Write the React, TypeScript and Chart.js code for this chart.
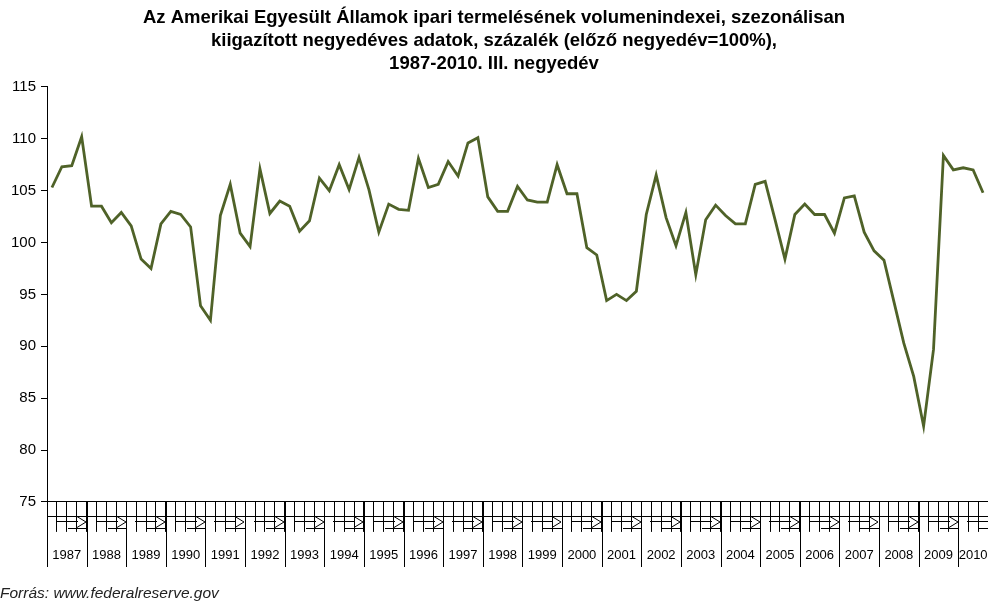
import React, { useEffect, useRef } from "react";
import { Chart, registerables } from "chart.js";

Chart.register(...registerables);

const titleLines = [
  "Az Amerikai Egyesült Államok ipari termelésének volumenindexei, szezonálisan",
  "kiigazított negyedéves adatok, százalék (előző negyedév=100%),",
  "1987-2010. III. negyedév",
];
const sourceNote = "Forrás: www.federalreserve.gov";

const years = [
  "1987", "1988", "1989", "1990", "1991", "1992", "1993", "1994",
  "1995", "1996", "1997", "1998", "1999", "2000", "2001", "2002",
  "2003", "2004", "2005", "2006", "2007", "2008", "2009", "2010",
];
const quarters = ["I.", "II.", "III.", "IV."];

const values = [
  105.3, 107.3, 107.4, 110.2,
  103.5, 103.5, 101.9, 102.9,
  101.6, 98.4, 97.5, 101.8,
  103.0, 102.7, 101.5, 93.9,
  92.5, 102.6, 105.6, 100.9,
  99.6, 107.1, 102.8, 104.0,
  103.5, 101.1, 102.1, 106.2,
  105.0, 107.5, 105.1, 108.2,
  105.1, 101.0, 103.7, 103.2,
  103.1, 108.1, 105.3, 105.6,
  107.8, 106.4, 109.6, 110.1,
  104.4, 103.0, 103.0, 105.4,
  104.1, 103.9, 103.9, 107.5,
  104.7, 104.7, 99.5, 98.8,
  94.4, 95.0, 94.4, 95.3,
  102.7, 106.5, 102.4, 99.7,
  102.9, 96.9, 102.2, 103.6,
  102.6, 101.8, 101.8, 105.6,
  105.9, 102.2, 98.4, 102.7,
  103.7, 102.7, 102.7, 100.9,
  104.3, 104.5, 101.0, 99.2,
  98.3, 94.3, 90.3, 87.1,
  82.3, 89.7, 108.4, 107.0,
  107.2, 107.0, 104.8,
];

const yMin = 75;
const yMax = 115;
const yStep = 5;

const FONT = "'Liberation Sans', Arial, sans-serif";

const axisDecor = {
  id: "axisDecor",
  afterDraw(chart: any) {
    const { ctx, chartArea } = chart;
    const s = chart.scales.x2;
    const y0 = Math.round(chart.scales.x.top);
    const n = values.length;
    ctx.save();
    ctx.strokeStyle = "#000";
    ctx.lineWidth = 1;
    const line = (x1: number, y1: number, x2: number, y2: number) => {
      ctx.beginPath();
      ctx.moveTo(x1, y1);
      ctx.lineTo(x2, y2);
      ctx.stroke();
    };
    // year separators
    const bounds = years.map((_, i) => i * 4 - 0.5).concat([n - 0.5]);
    bounds.forEach((b) => {
      const x = Math.round(s.getPixelForValue(b)) + 0.5;
      line(x, y0, x, y0 + 65);
    });
    // baseline of quarter glyph row
    line(chartArea.left, y0 + 14.5, chartArea.right, y0 + 14.5);
    // glyph marks per year
    ctx.beginPath();
    ctx.rect(chartArea.left, y0, chartArea.right - chartArea.left, 40);
    ctx.clip();
    years.forEach((_, i) => {
      const x0 = Math.round(s.getPixelForValue(i * 4 - 0.5));
      const full = i * 4 + 4 <= n;
      line(x0 + 9, y0 + 19.5, x0 + 31, y0 + 19.5);
      line(x0 + 21, y0 + 26.5, x0 + 40, y0 + 26.5);
      if (full) {
        ctx.beginPath();
        ctx.moveTo(x0 + 30, y0 + 14.5);
        ctx.lineTo(x0 + 39, y0 + 20);
        ctx.lineTo(x0 + 30, y0 + 25.5);
        ctx.stroke();
      }
    });
    ctx.restore();
  },
};

export default function App() {
  const ref = useRef<HTMLCanvasElement | null>(null);

  useEffect(() => {
    document.body.style.margin = "0";
    const labels = years
      .flatMap((y) => quarters.map((q) => `${y} ${q}`))
      .slice(0, values.length);
    const chart = new Chart(ref.current as HTMLCanvasElement, {
      type: "line",
      data: {
        labels,
        datasets: [
          {
            data: values,
            borderColor: "#4F6228",
            borderWidth: 2.8,
            pointRadius: 0,
            tension: 0,
            fill: false,
          },
        ],
      },
      plugins: [axisDecor],
      options: {
        responsive: false,
        animation: false,
        devicePixelRatio: 1,
        layout: { padding: { left: 0, right: 0, top: 0, bottom: 0 } },
        plugins: {
          legend: { display: false },
          tooltip: { enabled: false },
          title: {
            display: true,
            text: titleLines,
            color: "#000",
            font: { family: FONT, size: 18.5, weight: "bold", lineHeight: 1.25 },
            padding: { top: 6, bottom: 11.5 },
          },
          subtitle: {
            display: true,
            position: "bottom",
            align: "start",
            text: sourceNote,
            color: "#222",
            font: { family: FONT, size: 15.5, style: "italic", lineHeight: 1 },
            padding: { top: 6, bottom: 0 },
          },
        },
        scales: {
          x: {
            type: "category",
            offset: true,
            grid: {
              display: true,
              drawOnChartArea: false,
              drawTicks: true,
              tickLength: 30,
              offset: true,
              color: "#000",
            },
            border: { display: true, color: "#000", width: 1 },
            ticks: { display: false },
          },
          x2: {
            type: "linear",
            position: "bottom",
            min: -0.5,
            max: values.length - 0.5,
            grid: { display: false, drawTicks: false },
            border: { display: false },
            afterBuildTicks: (scale: any) => {
              scale.ticks = years.map((_, i) => ({
                value: i * 4 + (Math.min(4, values.length - i * 4) - 1) / 2,
              }));
            },
            afterFit: (scale: any) => {
              scale.paddingLeft = 0;
              scale.paddingRight = 0;
            },
            ticks: {
              autoSkip: false,
              maxRotation: 0,
              minRotation: 0,
              padding: 16,
              color: "#000",
              font: { family: FONT, size: 13 },
              callback: (_v: any, i: number) => years[i],
            },
          },
          y: {
            min: yMin,
            max: yMax,
            afterFit: (scale: any) => {
              scale.width = 47;
            },
            grid: {
              display: true,
              drawOnChartArea: false,
              drawTicks: true,
              tickLength: 6,
              color: "#000",
            },
            border: { display: true, color: "#000", width: 1 },
            ticks: {
              stepSize: yStep,
              padding: 5,
              color: "#000",
              font: { family: FONT, size: 15 },
            },
          },
        },
      },
    });
    return () => chart.destroy();
  }, []);

  return (
    <div style={{ width: 988, height: 601 }}>
      <canvas ref={ref} width={988} height={601} />
    </div>
  );
}
